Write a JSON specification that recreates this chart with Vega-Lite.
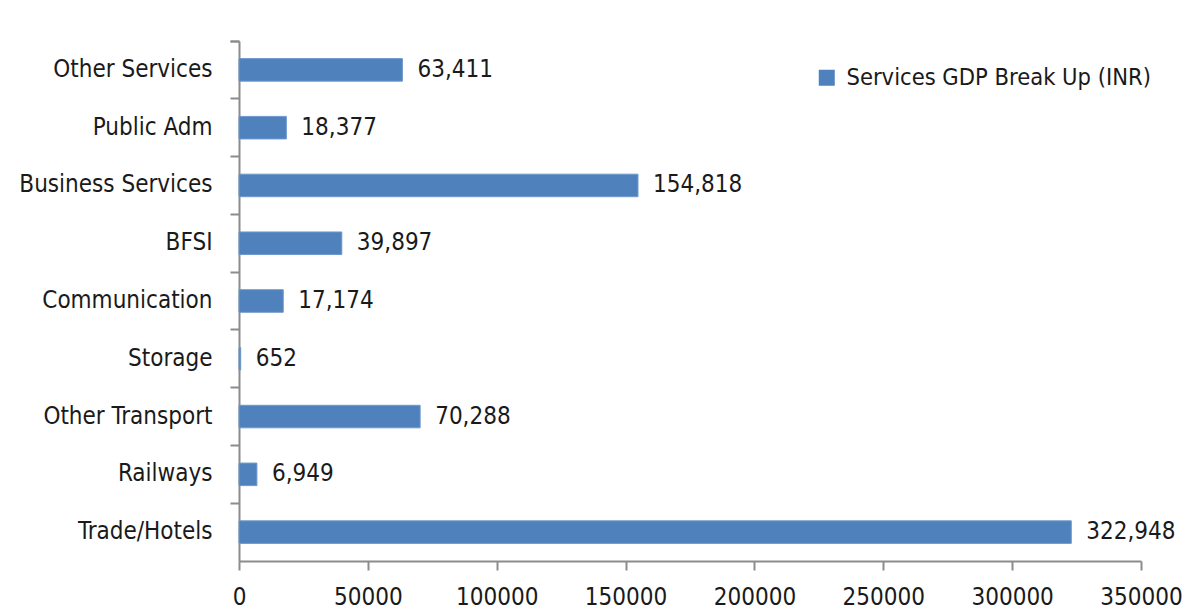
{
  "$schema": "https://vega.github.io/schema/vega-lite/v6.json",
  "autosize": {"type": "none"},
  "padding": {"left": 239, "top": 41, "right": 56, "bottom": 52},
  "width": 902,
  "height": 520,
  "background": "white",
  "config": {
    "font": "DejaVu Sans Condensed",
    "view": {"stroke": null},
    "axis": {
      "labelFont": "DejaVu Sans Condensed",
      "labelFontSize": 24,
      "labelColor": "#1a1a1a",
      "labelLimit": 0,
      "domainColor": "#8c8c8c",
      "tickColor": "#8c8c8c",
      "domainWidth": 2,
      "tickWidth": 2,
      "tickSize": 9,
      "grid": false,
      "title": null
    },
    "legend": {
      "labelFont": "DejaVu Sans Condensed",
      "labelFontSize": 23.5,
      "labelColor": "#1a1a1a",
      "labelLimit": 0
    }
  },
  "data": {
    "values": [
      {"sector": "Other Services", "value": 63411},
      {"sector": "Public Adm", "value": 18377},
      {"sector": "Business Services", "value": 154818},
      {"sector": "BFSI", "value": 39897},
      {"sector": "Communication", "value": 17174},
      {"sector": "Storage", "value": 652},
      {"sector": "Other Transport", "value": 70288},
      {"sector": "Railways", "value": 6949},
      {"sector": "Trade/Hotels", "value": 322948}
    ]
  },
  "encoding": {
    "y": {
      "field": "sector",
      "type": "nominal",
      "sort": null,
      "scale": {"paddingInner": 0, "paddingOuter": 0},
      "axis": {"bandPosition": 0, "tickExtra": true, "labelPadding": 18}
    },
    "x": {
      "field": "value",
      "type": "quantitative",
      "scale": {"domain": [0, 350000], "nice": false},
      "axis": {"values": [0, 50000, 100000, 150000, 200000, 250000, 300000, 350000], "format": "d", "labelPadding": 15, "labelFlush": false, "labelOverlap": false}
    }
  },
  "layer": [
    {
      "mark": {"type": "bar", "height": {"band": 0.39}, "stroke": "#6f98cc", "strokeWidth": 1},
      "encoding": {
        "color": {
          "datum": "Services GDP Break Up (INR)",
          "type": "nominal",
          "scale": {"range": ["#4f81bd"]},
          "legend": {
            "title": null,
            "orient": "none",
            "legendX": 576,
            "legendY": 25,
            "symbolType": "square",
            "symbolSize": 256,
            "symbolStrokeWidth": 0,
            "labelOffset": 8
          }
        }
      }
    },
    {
      "mark": {"type": "text", "align": "left", "baseline": "middle", "dx": 15, "fontSize": 24, "color": "#1a1a1a", "font": "DejaVu Sans Condensed"},
      "encoding": {
        "text": {"field": "value", "type": "quantitative", "format": ","}
      }
    }
  ]
}
